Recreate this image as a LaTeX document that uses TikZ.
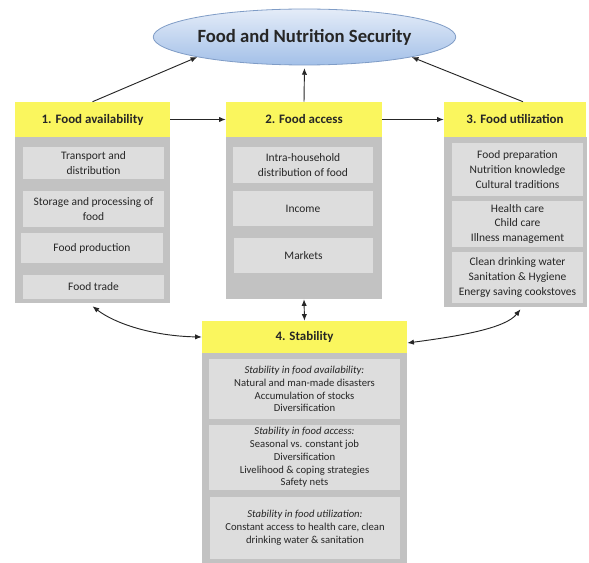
\documentclass[tikz,border=0pt]{standalone}
\usepackage{fontspec}
\setmainfont{Carlito}
\usetikzlibrary{arrows.meta,calc,shapes.geometric}
\definecolor{hdryellow}{HTML}{FAF65E}
\definecolor{bodygray}{HTML}{C2C2C2}
\definecolor{innergray}{HTML}{DDDDDD}
\definecolor{txtdark}{HTML}{262626}
\definecolor{ellborder}{HTML}{7F9CC6}
\definecolor{elltop}{HTML}{E4ECF8}
\definecolor{ellbot}{HTML}{A3C0E8}
\begin{document}
\begin{tikzpicture}[x=0.75pt,y=-0.75pt,
  sz/.style 2 args={minimum width=#1*0.75pt, minimum height=#2*0.75pt, inner sep=0pt},
  bodybox/.style={fill=bodygray, draw=none},
  innerbox/.style={fill=innergray, draw=none, align=center, text=txtdark,
    font=\fontsize{8.6}{11}\selectfont},
  stabbox/.style={fill=innergray, draw=none, align=center, text=txtdark,
    font=\fontsize{8}{9.6}\selectfont},
  hdrbox/.style={fill=hdryellow, draw=none, text=txtdark,
    font=\bfseries\fontsize{9.7}{11}\selectfont},
  arr/.style={draw=txtdark, line width=0.7pt, -{Latex[length=5pt,width=4pt]}},
  darr/.style={draw=txtdark, line width=0.7pt, {Latex[length=5pt,width=4pt]}-{Latex[length=5pt,width=4pt]}}
]
\useasboundingbox (0,0) rectangle (589,563);

% title ellipse
\node[ellipse, sz={265}{56}, draw=ellborder, line width=0.6pt,
  top color=elltop, bottom color=ellbot, text=txtdark,
  font=\bfseries\fontsize{14}{16}\selectfont] (fns) at (304.5,37) {Food and Nutrition Security};

% bodies
\node[bodybox, sz={155}{166}] (b1) at (92.5,220) {};
\node[bodybox, sz={156}{162}] (b2) at (304,218) {};
\node[bodybox, sz={143}{170}] (b3) at (515.5,222) {};
\node[bodybox, sz={205}{210}] (b4) at (304.5,458) {};

% box 1 items
\node[innerbox, sz={141}{32}] (t1a) at (93.5,163) {Transport and\\distribution};
\node[innerbox, sz={141}{36}] (t1b) at (93.5,209) {Storage and processing of\\food};
\node[innerbox, sz={142}{30}] (t1c) at (92,248) {Food production};
\node[innerbox, sz={141}{24}] (t1d) at (93.5,287) {Food trade};

% box 2 items
\node[innerbox, sz={140}{36}] (t2a) at (303,165) {Intra-household\\distribution of food};
\node[innerbox, sz={140}{35}] (t2b) at (303,208.5) {Income};
\node[innerbox, sz={139}{35}] (t2c) at (303.5,255.5) {Markets};

% box 3 items
\node[innerbox, sz={131}{53}] (t3a) at (517.5,169.5) {Food preparation\\Nutrition knowledge\\Cultural traditions};
\node[innerbox, sz={131}{46}] (t3b) at (517.5,224) {Health care\\Child care\\Illness management};
\node[innerbox, sz={131}{51}] (t3c) at (517.5,277.5) {Clean drinking water\\Sanitation \& Hygiene\\Energy saving cookstoves};

% box 4 items
\node[stabbox, sz={191}{60}] (t4a) at (304.5,389) {\textit{Stability in food availability:}\\Natural and man-made disasters\\Accumulation of stocks\\Diversification};
\node[stabbox, sz={191}{65}] (t4b) at (304.5,457.5) {\textit{Stability in food access:}\\Seasonal vs. constant job\\Diversification\\Livelihood \& coping strategies\\Safety nets};
\node[stabbox, sz={190}{62}] (t4c) at (305,528) {\textit{Stability in food utilization:}\\Constant access to health care, clean\\drinking water \& sanitation};

% headers
\node[hdrbox, sz={155}{35}] (h1) at (92.5,119.5) {1. Food availability};
\node[hdrbox, sz={156}{35}] (h2) at (304,119.5) {2. Food access};
\node[hdrbox, sz={142}{35}] (h3) at (515,119.5) {3. Food utilization};
\node[hdrbox, sz={205}{32}] (h4) at (304.5,337) {4. Stability};

% arrows to title
\draw[arr] (h1.north) -- (fns.south west);
\draw[arr, shorten >=2pt] (h2.north) -- (fns.south);
\draw[arr] ($(h3.north)+(8,0)$) -- (fns.south east);

% horizontal arrows
\draw[arr] (h1.east) -- (h2.west);
\draw[arr] (h2.east) -- (h3.west);

% vertical double arrow
\draw[darr] (b2.south) -- (h4.north);

% curved double arrows
\draw[darr] ($(b1.south)+(0,3)$) .. controls +(22,17) and +(-50,-1) .. (h4.west);
\draw[darr] ($(b3.south)+(5,2)$) .. controls +(-15,19) and +(53,-7) .. ($(h4.east)+(0,6)$);
\end{tikzpicture}
\end{document}
